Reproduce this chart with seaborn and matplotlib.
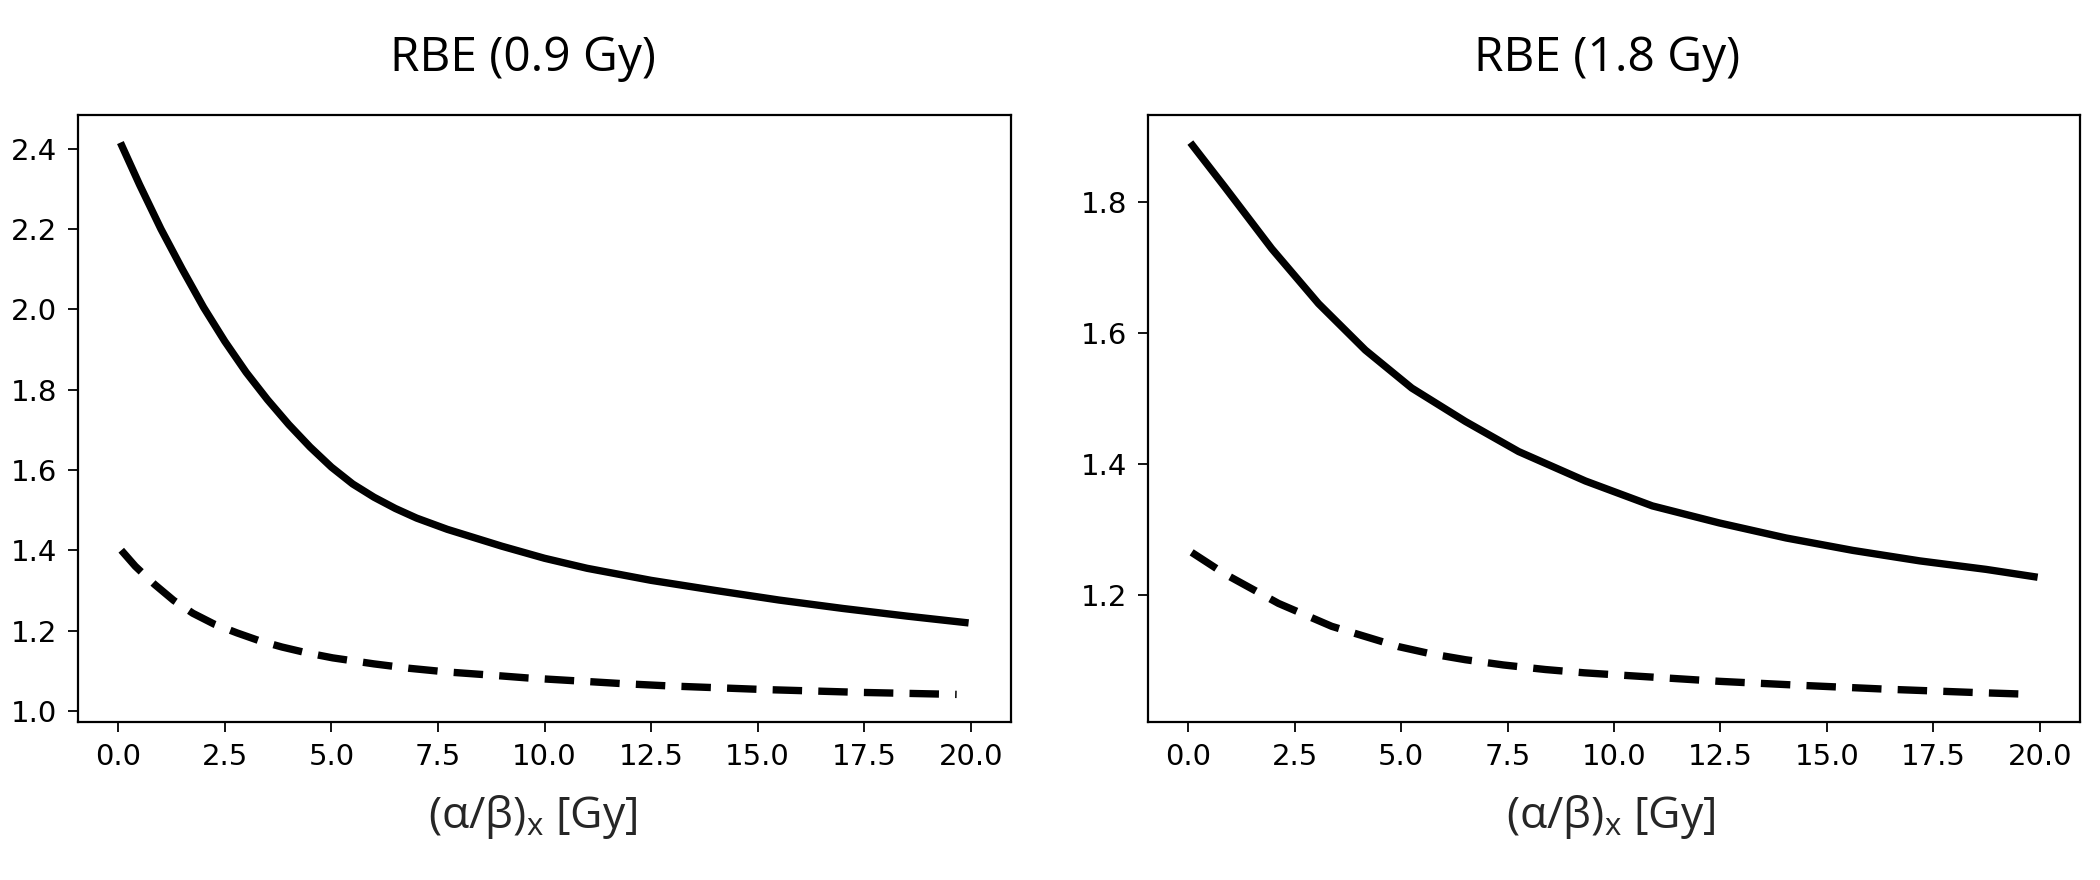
import numpy as np
import pandas as pd
import matplotlib
matplotlib.use("Agg")
import matplotlib.pyplot as plt
import seaborn as sns

# ---------------- data ----------------
titles = ["RBE (0.9 Gy)", "RBE (1.8 Gy)"]
x_label = "(α/β)$_\\mathregular{x}$ [Gy]"
x_ticks = [0.0, 2.5, 5.0, 7.5, 10.0, 12.5, 15.0, 17.5, 20.0]
y_ticks_left = [1.0, 1.2, 1.4, 1.6, 1.8, 2.0, 2.2, 2.4]
y_ticks_right = [1.2, 1.4, 1.6, 1.8]

# Left panel (0.9 Gy)
left_solid_x = [0.05, 0.5, 1.0, 1.5, 2.0, 2.5, 3.0, 3.5, 4.0, 4.5, 5.0, 5.5, 6.0, 6.5, 7.0,
                7.72, 9.0, 10.0, 11.0, 12.5, 14.0, 15.5, 17.0, 18.5, 19.95]
left_solid_y = [2.415, 2.310, 2.200, 2.100, 2.005, 1.920, 1.843, 1.775, 1.713, 1.657, 1.607,
                1.565, 1.532, 1.504, 1.480, 1.452, 1.410, 1.380, 1.355, 1.325, 1.300, 1.276,
                1.255, 1.236, 1.219]
left_dash_x = [0.07, 0.4, 0.85, 1.3, 1.75, 2.25, 2.79, 3.3, 3.84, 4.4, 5.03, 6.0, 6.83, 7.7,
               8.62, 9.6, 10.71, 11.8, 12.95, 15.19, 17.43, 19.67]
left_dash_y = [1.400, 1.360, 1.315, 1.275, 1.243, 1.216, 1.194, 1.175, 1.159, 1.145, 1.132,
               1.117, 1.106, 1.097, 1.090, 1.082, 1.075, 1.068, 1.062, 1.053, 1.046, 1.041]

# Right panel (1.8 Gy)
right_solid_x = [0.05, 0.86, 1.96, 3.06, 4.16, 5.25, 6.51, 7.76, 9.33, 10.90, 12.47, 14.04,
                 15.61, 17.18, 18.74, 19.95]
right_solid_y = [1.891, 1.823, 1.729, 1.645, 1.574, 1.516, 1.465, 1.419, 1.374, 1.336, 1.310,
                 1.287, 1.268, 1.252, 1.239, 1.227]
right_dash_x = [0.08, 0.86, 2.12, 3.37, 4.94, 5.7, 6.51, 7.4, 8.39, 9.3, 10.27, 12.47, 14.35,
                16.39, 18.43, 19.84]
right_dash_y = [1.265, 1.232, 1.187, 1.152, 1.121, 1.110, 1.101, 1.093, 1.086, 1.081, 1.077,
                1.068, 1.062, 1.056, 1.051, 1.048]


def make_df(sx, sy, dx, dy):
    a = pd.DataFrame({"ab": sx, "RBE": sy, "curve": "solid"})
    b = pd.DataFrame({"ab": dx, "RBE": dy, "curve": "dashed"})
    return pd.concat([a, b], ignore_index=True)


panels = [
    (make_df(left_solid_x, left_solid_y, left_dash_x, left_dash_y), y_ticks_left),
    (make_df(right_solid_x, right_solid_y, right_dash_x, right_dash_y), y_ticks_right),
]

# ---------------- style ----------------
sns.set_style("ticks")
plt.rcParams["font.family"] = ["DejaVu Sans"]
plt.rcParams["axes.edgecolor"] = "black"
plt.rcParams["xtick.color"] = "black"
plt.rcParams["ytick.color"] = "black"
plt.rcParams["text.color"] = "black"

W, H = 2100, 880
fig = plt.figure(figsize=(W / 100, H / 100), dpi=100)
ax_boxes = [(78, 115, 1011, 722), (1148, 115, 2080, 722)]
title_x = [0.477, 0.493]
label_x = [0.487, 0.496]

for (df, yt), title, (l, t, r, b), tx, lx in zip(panels, titles, ax_boxes, title_x, label_x):
    ax = fig.add_axes([l / W, 1 - b / H, (r - l) / W, (b - t) / H])
    sns.lineplot(data=df, x="ab", y="RBE", style="curve",
                 style_order=["solid", "dashed"],
                 dashes={"solid": "", "dashed": (4.0, 2.2)},
                 color="black", linewidth=5.3, legend=False, sort=True,
                 estimator=None, ax=ax)
    for ln in ax.get_lines():
        ln.set_solid_capstyle("butt")
        ln.set_dash_capstyle("butt")
        ln.set_solid_joinstyle("round")
    ax.set_xticks(x_ticks)
    ax.set_xticklabels([f"{v:.1f}" for v in x_ticks])
    ax.set_yticks(yt)
    ax.set_yticklabels([f"{v:.1f}" for v in yt])
    ax.tick_params(axis="both", labelsize=21, length=7, width=1.3, pad=8)
    for sp in ax.spines.values():
        sp.set_visible(True)
        sp.set_linewidth(1.6)
        sp.set_color("black")
    ax.set_ylabel("")
    ax.set_xlabel(x_label, fontsize=32, fontfamily="Open Sans", labelpad=16, x=lx)
    ax.set_title(title, fontsize=34.5, fontfamily="Open Sans", pad=32, x=tx)

fig.savefig("out.png", dpi=100)
